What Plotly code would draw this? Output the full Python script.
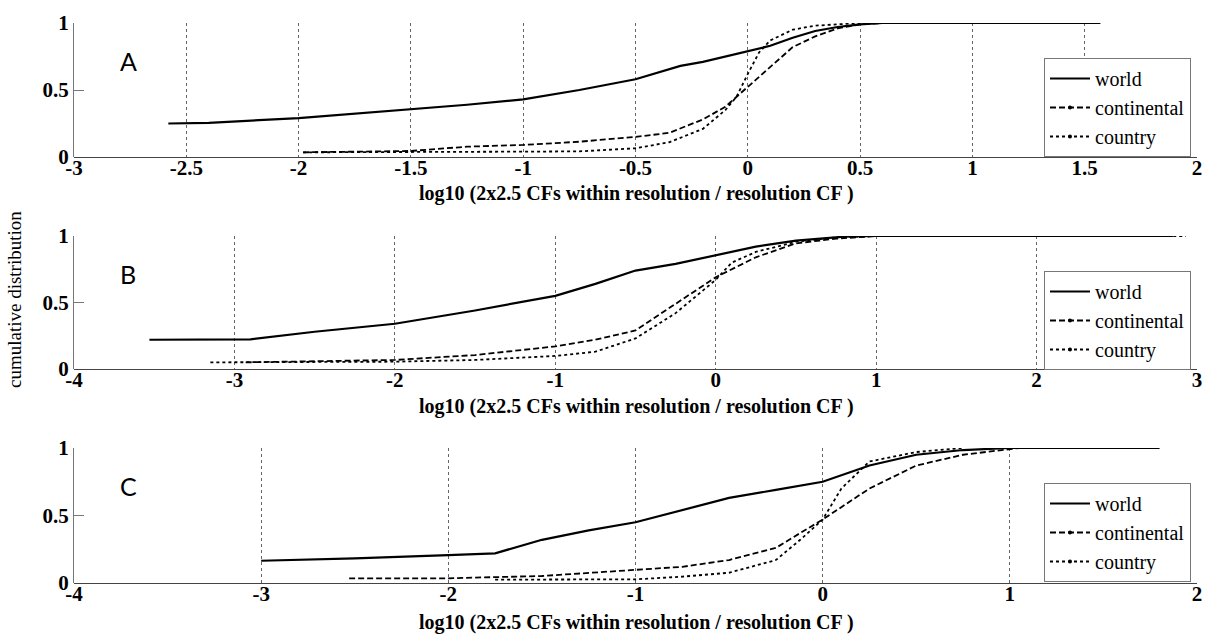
import plotly.graph_objects as go

# ---------------- data ----------------
# Panel A
a_world_x = [-2.58, -2.4, -2.0, -1.5, -1.25, -1.0, -0.75, -0.5, -0.3, -0.2, 0.0, 0.1, 0.2, 0.3, 0.4, 0.5, 0.6, 1.0, 1.57]
a_world_y = [0.25, 0.255, 0.29, 0.355, 0.39, 0.43, 0.50, 0.58, 0.68, 0.71, 0.79, 0.83, 0.89, 0.94, 0.97, 0.99, 1.0, 1.0, 1.0]
a_cont_x = [-1.98, -1.5, -1.25, -1.0, -0.75, -0.5, -0.35, -0.2, -0.1, 0.0, 0.1, 0.2, 0.3, 0.4, 0.5, 0.6]
a_cont_y = [0.035, 0.045, 0.077, 0.09, 0.114, 0.15, 0.18, 0.28, 0.375, 0.525, 0.67, 0.82, 0.90, 0.96, 0.99, 1.0]
a_ctry_x = [-1.98, -1.5, -1.0, -0.75, -0.5, -0.35, -0.2, -0.1, -0.05, 0.0, 0.05, 0.1, 0.2, 0.3, 0.4, 0.5]
a_ctry_y = [0.035, 0.035, 0.04, 0.042, 0.065, 0.11, 0.21, 0.35, 0.45, 0.62, 0.78, 0.87, 0.95, 0.98, 0.99, 1.0]

# Panel B
b_world_x = [-3.53, -2.9, -2.5, -2.0, -1.5, -1.0, -0.75, -0.5, -0.25, 0.0, 0.25, 0.5, 0.8, 1.0, 2.85]
b_world_y = [0.22, 0.223, 0.28, 0.34, 0.44, 0.55, 0.64, 0.74, 0.79, 0.857, 0.92, 0.965, 0.995, 1.0, 1.0]
b_cont_x = [-2.93, -2.0, -1.5, -1.0, -0.75, -0.5, -0.25, 0.0, 0.25, 0.5, 0.75, 1.0]
b_cont_y = [0.05, 0.068, 0.105, 0.17, 0.22, 0.29, 0.49, 0.69, 0.84, 0.945, 0.98, 1.0]
b_ctry_x = [-3.15, -2.0, -1.5, -1.0, -0.75, -0.5, -0.25, 0.0, 0.1, 0.25, 0.5, 0.75, 1.0, 2.93]
b_ctry_y = [0.05, 0.055, 0.068, 0.098, 0.13, 0.23, 0.42, 0.67, 0.80, 0.88, 0.957, 0.99, 1.0, 1.0]

# Panel C
c_world_x = [-3.0, -2.5, -2.0, -1.75, -1.5, -1.25, -1.0, -0.75, -0.5, -0.25, 0.0, 0.25, 0.5, 0.75, 1.0, 1.8]
c_world_y = [0.165, 0.183, 0.207, 0.22, 0.32, 0.39, 0.45, 0.54, 0.63, 0.69, 0.75, 0.87, 0.95, 0.985, 1.0, 1.0]
c_cont_x = [-2.53, -2.0, -1.5, -1.0, -0.75, -0.5, -0.25, -0.12, 0.0, 0.25, 0.5, 0.75, 1.0, 1.05]
c_cont_y = [0.035, 0.035, 0.052, 0.096, 0.12, 0.17, 0.26, 0.37, 0.47, 0.70, 0.87, 0.95, 0.99, 1.0]
c_ctry_x = [-1.75, -1.0, -0.75, -0.5, -0.25, -0.12, 0.0, 0.1, 0.25, 0.5, 0.75]
c_ctry_y = [0.025, 0.027, 0.047, 0.076, 0.17, 0.32, 0.47, 0.70, 0.90, 0.97, 1.0]

series_names = ["world", "continental", "country"]

a_ticks = [-3, -2.5, -2, -1.5, -1, -0.5, 0, 0.5, 1, 1.5, 2]
a_ticktext = ["-3", "-2.5", "-2", "-1.5", "-1", "-0.5", "0", "0.5", "1", "1.5", "2"]
b_ticks = [-4, -3, -2, -1, 0, 1, 2, 3]
b_ticktext = ["-4", "-3", "-2", "-1", "0", "1", "2", "3"]
c_ticks = [-4, -3, -2, -1, 0, 1, 2]
c_ticktext = ["-4", "-3", "-2", "-1", "0", "1", "2"]
y_ticks = [0, 0.5, 1]
y_ticktext = ["0", "0.5", "1"]

panel_letters = ["A", "B", "C"]
x_title = "log10 (2x2.5 CFs within resolution / resolution CF )"
y_title = "cumulative distribution"

# ---------------- figure ----------------
W, H = 1205, 636
SERIF = "Liberation Serif, Times New Roman, Times, serif"

def py(px):
    return 1 - px / H

styles = [dict(dash="solid", width=2.2), dict(dash="6px,3px", width=1.8), dict(dash="dot", width=1.8)]

panels = [
    (a_world_x, a_world_y, a_cont_x, a_cont_y, a_ctry_x, a_ctry_y, [-3, 2], a_ticks, a_ticktext, (23, 157), 193),
    (b_world_x, b_world_y, b_cont_x, b_cont_y, b_ctry_x, b_ctry_y, [-4, 3], b_ticks, b_ticktext, (236, 369), 406),
    (c_world_x, c_world_y, c_cont_x, c_cont_y, c_ctry_x, c_ctry_y, [-4, 2], c_ticks, c_ticktext, (448, 583), 622),
]

fig = go.Figure()
layout = {}
annotations = []
for i, (wx, wy, cx, cy, kx, ky, xr, tv, tt, (top, bot), ty) in enumerate(panels):
    n = "" if i == 0 else str(i + 1)
    xa, ya = "x" + n, "y" + n
    leg = "legend" + n
    for (xs, ys), st in zip([(wx, wy), (cx, cy), (kx, ky)], styles):
        fig.add_trace(go.Scatter(x=xs, y=ys, mode="lines", xaxis=xa, yaxis=ya,
                                 line=dict(color="black", **st), showlegend=False,
                                 hoverinfo="skip"))
    for name, st, mk in zip(series_names, styles, [False, True, True]):
        fig.add_trace(go.Scatter(x=[None], y=[None], name=name, xaxis=xa, yaxis=ya,
                                 mode="lines+markers" if mk else "lines",
                                 marker=dict(size=4, color="black"),
                                 line=dict(color="black", **st), legend=leg))
    # x axis labels sit a few px higher than plotly's default, so the axis is free-anchored
    # slightly above the bottom; the bottom axis line is drawn by the y zeroline.
    layout["xaxis" + n] = dict(
        domain=[74 / W, 1197 / W], range=xr, anchor="free", position=py(bot - 4), automargin=False,
        tickvals=tv, ticktext=tt, ticks="",
        showline=False,
        showgrid=True, griddash="dot", gridcolor="#666", gridwidth=1,
        zeroline=False, tickfont=dict(family=SERIF, size=21, color="black", weight="bold"),
        ticklabelstandoff=0,
    )
    layout["yaxis" + n] = dict(
        domain=[py(bot), py(top)], range=[0, 1], anchor=xa, automargin=False,
        tickvals=y_ticks, ticktext=y_ticktext, ticks="inside", ticklen=10, tickcolor="#777",
        showline=True, linecolor="#777", linewidth=1, showgrid=False,
        zeroline=True, zerolinecolor="#444", zerolinewidth=1,
        tickfont=dict(family=SERIF, size=21, color="black", weight="bold"),
    )
    layout[leg] = dict(
        x=1191 / W, xanchor="right", y=py(top + 35), yanchor="top",
        bgcolor="white", bordercolor="#777", borderwidth=1,
        font=dict(family=SERIF, size=20, color="black"),
        tracegroupgap=0, itemwidth=40,
    )
    annotations.append(dict(text=panel_letters[i], x=128 / W, y=py(top + 38), xref="paper", yref="paper",
                            xanchor="center", yanchor="middle",
                            showarrow=False, font=dict(family="Lato", size=25, color="black")))
    annotations.append(dict(text=x_title, x=636 / W, y=py(ty), xref="paper", yref="paper",
                            xanchor="center", yanchor="middle",
                            showarrow=False, font=dict(family=SERIF, size=20, color="black", weight="bold")))

annotations.append(dict(text=y_title, x=14 / W, y=py(300), xref="paper", yref="paper", textangle=-90,
                        xanchor="center", yanchor="middle",
                        showarrow=False, font=dict(family=SERIF, size=19, color="black")))

fig.update_layout(
    width=W, height=H, margin=dict(l=0, r=0, t=0, b=0, pad=0, autoexpand=False),
    paper_bgcolor="white", plot_bgcolor="white",
    annotations=annotations, **layout,
)

fig.write_html("out.html")
